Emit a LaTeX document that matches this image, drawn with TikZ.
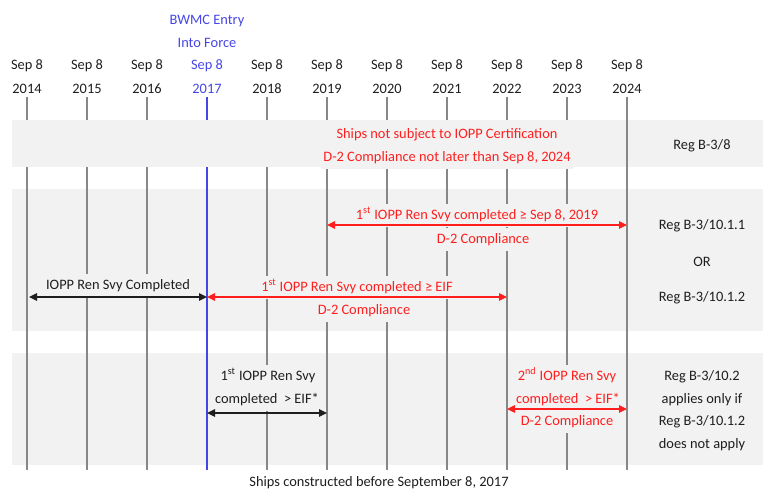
\documentclass[tikz,border=0pt]{standalone}
\usepackage{fontspec}
\setmainfont{Carlito}
\usetikzlibrary{arrows.meta}
\definecolor{bandgray}{RGB}{242,242,242}
\definecolor{linegray}{RGB}{135,135,135}
\definecolor{eifblue}{RGB}{70,70,230}
\definecolor{regred}{RGB}{255,30,30}
\definecolor{txt}{RGB}{30,30,30}
\tikzset{
  lbl/.style={font=\fontsize{10.8}{13}\selectfont, anchor=base, inner xsep=2pt, inner ysep=3.5pt,
    text height=8pt, text depth=2.5pt, text=txt},
  bandlbl/.style={lbl, fill=bandgray},
  redlbl/.style={bandlbl, text=regred},
  yearline/.style={linegray, line width=1pt},
  eifline/.style={eifblue, line width=1.5pt},
  spanarrow/.style={{Triangle[length=6pt,width=5.5pt]}-{Triangle[length=6pt,width=5.5pt]}, line width=1.2pt},
}

\begin{document}
\begin{tikzpicture}[x=0.75pt,y=-0.75pt]
    \useasboundingbox (0,0) rectangle (765,489);
    \fill[bandgray] (12,189) rectangle (763,331);
    \fill[bandgray] (12,353) rectangle (763,465);

    % dates
    \node[lbl, text=eifblue] (eifA) at (207,24) {BWMC Entry};
    \node[lbl, text=eifblue] (eifB) at (207,47) {Into Force};
    \foreach \yr [count=\i from 0] in {2014,...,2024} {
      \ifnum\yr=2017 \def\c{eifblue}\else\def\c{txt}\fi
      \coordinate (t\yr) at (27+60*\i,97);
      \coordinate (b\yr) at (27+60*\i,470);
      \node[lbl, text=\c] (m\yr) at (27+60*\i,69) {Sep 8};
      \node[lbl, text=\c] (y\yr) at (27+60*\i,93) {\yr};
    }
    \foreach \yr in {2014,2015,2016,2018,2019,2020,2021,2022,2023}
      \draw[yearline] (t\yr) -- (b\yr);
    \draw[eifline] (t2017) -- (b2017);

    % band 1 hides the lines, except 2024
    \fill[bandgray] (12,120) rectangle (763,167);
    \draw[yearline] (t2024) -- (b2024);
    \node[redlbl] (shipsA) at (447,138) {Ships not subject to IOPP Certification};
    \node[redlbl] (shipsB) at (447,161) {D-2 Compliance not later than Sep 8, 2024};
    \node[bandlbl] (reg8) at (702,149) {Reg B-3/8};

    % band 2
    \node[redlbl] (firstA) at (477,219) {1\textsuperscript{st} IOPP Ren Svy completed ≥ Sep 8, 2019};
    \node[redlbl] (firstB) at (483,243) {D-2 Compliance};
    \node[bandlbl] (renA) at (118,289) {IOPP Ren Svy Completed};
    \node[redlbl] (eifC) at (357,291) {1\textsuperscript{st} IOPP Ren Svy completed ≥ EIF};
    \node[redlbl] (eifD) at (364,314) {D-2 Compliance};
    \node[bandlbl] (regA) at (702,229) {Reg B-3/10.1.1};
    \node[bandlbl] (regOr) at (702,266) {OR};
    \node[bandlbl] (regB) at (702,301) {Reg B-3/10.1.2};
    \coordinate (upL) at (t2019 |- 0,225);
    \coordinate (upR) at (t2024 |- 0,225);
    \coordinate (loL) at ([xshift=1.5pt]t2014 |- 0,297);
    \coordinate (loM) at (t2017 |- 0,297);
    \coordinate (loR) at (t2022 |- 0,297);
    \draw[spanarrow, regred] (upL) -- (upR);
    \draw[spanarrow, txt] (loL) -- (loM);
    \draw[spanarrow, regred] (loM) -- (loR);

    % band 3
    \node[bandlbl] (svyA) at (268,380) {1\textsuperscript{st} IOPP Ren Svy};
    \node[bandlbl] (svyB) at (267,403) {completed\ \ > EIF*};
    \node[redlbl] (svyC) at (567,380) {2\textsuperscript{nd} IOPP Ren Svy};
    \node[redlbl] (svyD) at (568,403) {completed\ \ > EIF*};
    \node[redlbl] (svyE) at (567,425) {D-2 Compliance};
    \node[bandlbl] (regC) at (702,380) {Reg B-3/10.2};
    \node[bandlbl] (regD) at (702,403) {applies only if};
    \node[bandlbl] (regE) at (702,425) {Reg B-3/10.1.2};
    \node[bandlbl] (regF) at (702,448) {does not apply};
    \coordinate (bkL) at (t2017 |- 0,413);
    \coordinate (bkR) at (t2019 |- 0,413);
    \coordinate (rdL) at (t2022 |- 0,409);
    \coordinate (rdR) at (t2024 |- 0,409);
    \draw[spanarrow, txt] (bkL) -- (bkR);
    \draw[spanarrow, regred] (rdL) -- (rdR);

    \node[lbl] (built) at (379,486) {Ships constructed before September 8, 2017};
\end{tikzpicture}
\end{document}
